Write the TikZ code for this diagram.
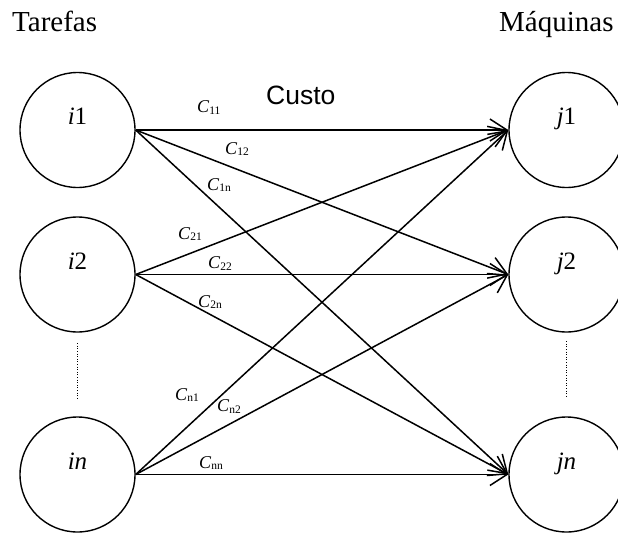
\documentclass[tikz,border=0pt]{standalone}
\usepackage{fontspec}
\setmainfont{Liberation Serif}
\newfontfamily\custofont{Liberation Sans}
\usetikzlibrary{arrows.meta}
\newcommand{\clab}[1]{{\fontsize{18}{18}\selectfont\textit{C}}\raisebox{-1.5pt}{\fontsize{11.5}{11.5}\selectfont #1}}
\begin{document}
\begin{tikzpicture}[x=1pt,y=-1pt,
 vert/.style={circle,draw,line width=1.4pt,minimum size=115pt,inner sep=0pt},
 vtext/.style={anchor=base,font=\fontsize{25}{25}\selectfont,inner sep=0pt},
 title/.style={anchor=base west,inner sep=0pt,font=\fontsize{29}{29}\selectfont},
 cost/.style={anchor=base west,inner sep=0pt},
 edge/.style={line width=1.5pt,-{Straight Barb[length=17pt,width=22pt]}},
 dots/.style={line width=0.9pt,dash pattern=on 1pt off 1.6pt}]
\useasboundingbox (0,0) rectangle (618,533);
% titles
\node[title] (tt) at (12,31) {Tarefas};
\node[title] (tm) at (499,31) {Máquinas};
\node[anchor=base west,inner sep=0pt,font=\custofont\fontsize{26.5}{26.5}\selectfont] (custo) at (266,104) {Custo};
% task nodes
\node[vert] (i1) at (77.5,130) {};
\node[vert] (i2) at (77.5,274.5) {};
\node[vert] (in) at (77.5,474.5) {};
% machine nodes
\node[vert] (j1) at (566.5,130) {};
\node[vert] (j2) at (566.5,274.5) {};
\node[vert] (jn) at (566.5,474.5) {};
% node texts
\node[vtext] (ti1) at ([yshift=5.5pt]i1.center) {\textit{i}1};
\node[vtext] (ti2) at ([yshift=5.5pt]i2.center) {\textit{i}2};
\node[vtext] (tin) at ([yshift=5.5pt]in.center) {\textit{in}};
\node[vtext] (tj1) at ([yshift=5.5pt]j1.center) {\textit{j}1};
\node[vtext] (tj2) at ([yshift=5.5pt]j2.center) {\textit{j}2};
\node[vtext] (tjn) at ([yshift=5.5pt]jn.center) {\textit{jn}};
% edges
\foreach \s in {i1,i2,in}{
  \foreach \t in {j1,j2,jn}{
    \draw[edge] (\s.east) -- (\t.west);
  }
}
% dotted ellipsis
\draw[dots] ([yshift=-10.5pt]i2.south) -- ([yshift=17pt]in.north);
\draw[dots] ([yshift=-8.5pt]j2.south) -- ([yshift=19pt]jn.north);
% cost labels
\node[cost] (c11) at (197,112.7) {\clab{11}};
\node[cost] (c12) at (225,154) {\clab{12}};
\node[cost] (c1n) at (207,190) {\clab{1n}};
\node[cost] (c21) at (178,239) {\clab{21}};
\node[cost] (c22) at (208,268.7) {\clab{22}};
\node[cost] (c2n) at (198,307) {\clab{2n}};
\node[cost] (cn1) at (175,400) {\clab{n1}};
\node[cost] (cn2) at (217,411.7) {\clab{n2}};
\node[cost] (cnn) at (199,468) {\clab{nn}};
\end{tikzpicture}
\end{document}
